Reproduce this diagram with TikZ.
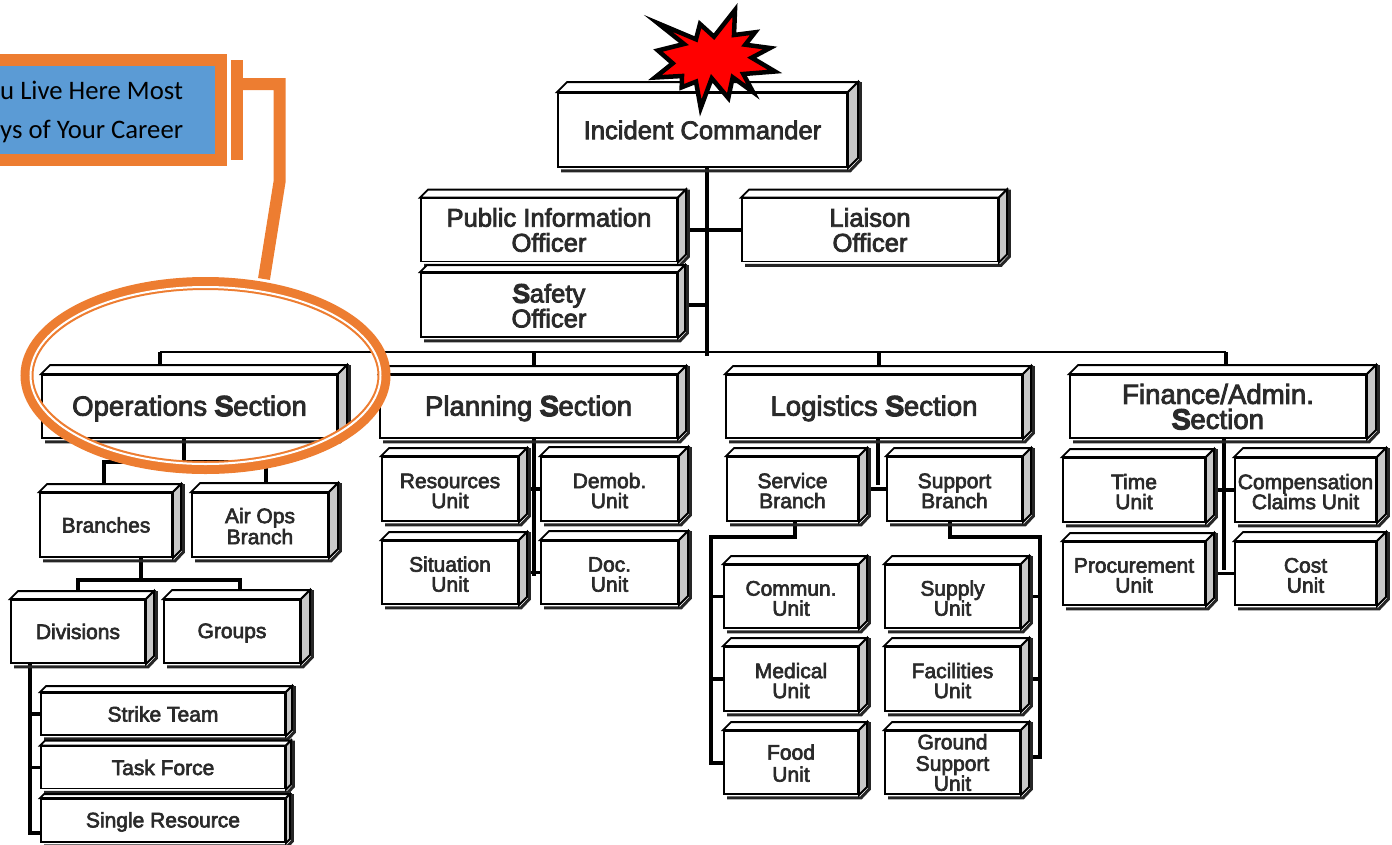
\documentclass[tikz,border=0pt]{standalone}
\usepackage{fontspec}
\usepackage{xcolor}
\usetikzlibrary{calc,backgrounds,shapes.geometric}
\newfontfamily\orgfont[FakeBold=3]{Liberation Sans}
\newfontfamily\heavyfont[FakeBold=8]{Liberation Sans}
\newfontfamily\notefont{Carlito}
\newcommand\heavyS{{\heavyfont S}}
\definecolor{FontColor}{HTML}{2a2a2a}
\definecolor{BevelGray}{HTML}{c8c8c8}
\definecolor{NoteBlue}{HTML}{5b9bd5}
\definecolor{NoteOrange}{HTML}{ed7d31}
\definecolor{StarRed}{HTML}{ff0000}
\tikzstyle{orgnode} = [rectangle, draw=black, fill=white, line width=1.9pt, inner sep=0pt, align=center, text=FontColor]
\tikzstyle{big} = [orgnode, font=\orgfont\fontsize{25.6}{25}\selectfont]
\tikzstyle{sec} = [orgnode, font=\orgfont\fontsize{27.6}{25}\selectfont]
\tikzstyle{unit} = [orgnode, font=\orgfont\fontsize{21}{20}\selectfont]
\tikzstyle{low} = [text height=38.5pt]
\tikzstyle{link} = [line width=3.5pt, black, line join=miter]
\tikzstyle{callout} = [line width=12pt, NoteOrange, line join=miter]
\tikzset{x=1pt, y=-1pt}

\begin{document}
\begin{tikzpicture}
\clip (0,0) rectangle (1392,844);
% top of the chart
\node[big, minimum width=289pt, minimum height=74pt] (ic) at (702.5,130) {Incident Commander};
\node[big, minimum width=256pt, minimum height=63pt] (pio) at (549,230) {Public Information\\Officer};
\node[big, minimum width=256pt, minimum height=63pt] (lo) at (870,230) {Liaison\\Officer};
\node[big, minimum width=256pt, minimum height=64pt, text height=45pt] (so) at (549,305) {\heavyS afety\\Officer};
% sections
\node[sec, minimum width=295pt, minimum height=63pt, text depth=1.8pt] (ops) at (189.5,406.5) {Operations \heavyS ection};
\node[sec, minimum width=297pt, minimum height=63pt, text depth=1.8pt] (plan) at (528.5,406.5) {Planning \heavyS ection};
\node[sec, minimum width=296pt, minimum height=63pt, text depth=1.8pt] (logi) at (874,406.5) {Logistics \heavyS ection};
\node[sec, minimum width=296pt, minimum height=63pt] (fin) at (1218,406.5) {Finance/Admin.\\\heavyS ection};
% operations
\node[unit, minimum width=132pt, minimum height=64pt] (br) at (106,525) {Branches};
\node[unit, minimum width=136pt, minimum height=64pt, low] (air) at (260,525) {Air Ops\\[1pt]Branch};
\node[unit, minimum width=134pt, minimum height=63pt] (div) at (78,631.5) {Divisions};
\node[unit, minimum width=136pt, minimum height=63pt, text depth=1.5pt] (grp) at (232,631.5) {Groups};
\node[unit, minimum width=244pt, minimum height=42pt] (st) at (163,714) {Strike Team};
\node[unit, minimum width=244pt, minimum height=42pt] (tf) at (163,767.5) {Task Force};
\node[unit, minimum width=244pt, minimum height=43pt, text depth=1.5pt] (sr) at (163,820.5) {Single Resource};
% planning
\node[unit, minimum width=136pt, minimum height=64pt, low] (res) at (450,489) {Resources\\Unit};
\node[unit, minimum width=137pt, minimum height=64pt, low] (dem) at (609.5,489) {Demob.\\Unit};
\node[unit, minimum width=136pt, minimum height=63pt, low] (sit) at (450,572.5) {Situation\\Unit};
\node[unit, minimum width=137pt, minimum height=63pt, low] (doc) at (609.5,572.5) {Doc.\\Unit};
% logistics
\node[unit, minimum width=131pt, minimum height=64pt, low] (svc) at (792.5,489) {Service\\Branch};
\node[unit, minimum width=135pt, minimum height=64pt, low] (sup) at (954.5,489) {Support\\Branch};
\node[unit, minimum width=134pt, minimum height=63pt, low] (com) at (791,596.5) {Commun.\\Unit};
\node[unit, minimum width=134pt, minimum height=64pt, low] (med) at (791,679) {Medical\\Unit};
\node[unit, minimum width=134pt, minimum height=63pt, low] (food) at (791,762.5) {Food\\[2pt]Unit};
\node[unit, minimum width=135pt, minimum height=63pt, low] (sply) at (952.5,596.5) {Supply\\Unit};
\node[unit, minimum width=135pt, minimum height=64pt, low] (fac) at (952.5,679) {Facilities\\Unit};
\node[unit, minimum width=135pt, minimum height=63pt] (gnd) at (952.5,762.5) {Ground\\[1.5pt]Support\\Unit};
% finance
\node[unit, minimum width=142pt, minimum height=64pt, low] (time) at (1134,490) {Time\\Unit};
\node[unit, minimum width=141pt, minimum height=64pt, low] (comp) at (1305.5,490) {Compensation\\Claims Unit};
\node[unit, minimum width=142pt, minimum height=63pt, low] (proc) at (1134,573.5) {Procurement\\Unit};
\node[unit, minimum width=141pt, minimum height=63pt, low] (cost) at (1305.5,573.5) {Cost\\Unit};
% the raised edges of every box
\foreach \n/\d in {ic/10,pio/8,lo/8,so/7,ops/9,plan/8,logi/8,fin/9,br/8,air/9,div/8,grp/9,st/6,tf/5,sr/4,
  res/8,dem/9,sit/8,doc/9,svc/8,sup/8,com/8,med/8,food/8,sply/8,fac/8,gnd/8,time/8,comp/9,proc/8,cost/9} {
  \draw[line width=3pt, black!85] ($(\n.south west)+(4,3)$) -- ($(\n.south east)+(2,3)$) -- ($(\n.south east)+(\d+2.5,-\d+2)$) -- ($(\n.north east)+(\d+2.5,-\d)$);
  \draw[line width=1.9pt, black, fill=white] (\n.north west) -- ($(\n.north west)+(\d,-\d)$) -- ($(\n.north east)+(\d,-\d)$) -- (\n.north east) -- cycle;
  \draw[line width=1.9pt, black, fill=BevelGray] (\n.north east) -- ($(\n.north east)+(\d,-\d)$) -- ($(\n.south east)+(\d,-\d)$) -- (\n.south east) -- cycle;
}
\coordinate (spine) at (707,356);
\coordinate (bus) at (160,352);
\coordinate (busend) at (1226,352);
\coordinate (opsbar) at (184,462);
\coordinate (brbar) at (141,580);
\coordinate (divend) at (30,833);
\coordinate (svcbar) at (795,537);
\coordinate (svcend) at (711,763);
\coordinate (supbar) at (950,537);
\coordinate (supend) at (1040,757);
\begin{pgfonlayer}{background}
\draw[link] (ic.south -| spine) -- (spine);
\draw[link] (pio.east) -- (lo.west);
\draw[link] (so.east) -- (so.east -| spine);
\draw[link, line width=2.8pt] (bus) -- (busend);
\draw[link] (bus) -- (bus |- ops.north);
\draw[link] (plan.north -| 534,0) -- (534,352);
\draw[link] (logi.north -| 879,0) -- (879,352);
\draw[link] (busend) -- (busend |- fin.north);
\draw[link] (ops.south -| opsbar) -- (opsbar);
\draw[link] (br.north -| 104,0) |- (opsbar);
\draw[link] (air.north -| 266,0) |- (opsbar);
\draw[link] (br.south -| brbar) -- (brbar);
\draw[link] (div.north) |- (brbar);
\draw[link] (grp.north -| 240,0) |- (brbar);
\draw[link] (div.south -| divend) -- (divend) -- (sr.west |- divend);
\draw[link] (st.west) -| (divend);
\draw[link] (tf.west) -| (divend);
\draw[link] (plan.south -| 534,0) -- (534,576);
\draw[link] (res.east) -- (dem.west);
\draw[link] (sit.east) -- (doc.west);
\draw[link] (logi.south -| 878,0) -- (878,485);
\draw[link] (svc.east) -- (sup.west);
\draw[link] (svc.south -| svcbar) -- (svcbar) -| (svcend) -- (food.west |- svcend);
\draw[link] (com.west) -| (svcend);
\draw[link] (med.west) -| (svcend);
\draw[link] (sup.south -| supbar) -- (supbar) -| (supend) -- (gnd.east |- supend);
\draw[link] (sply.east) -| (supend);
\draw[link] (fac.east) -| (supend);
\draw[link] (fin.south -| 1224,0) -- (1224,570);
\draw[link] (time.east) -- (comp.west);
\draw[link] (proc.east) -- (cost.west);
\end{pgfonlayer}
% the burst on the commander
\draw[line width=4.5pt, black, fill=StarRed, miter limit=10, line join=miter]
  (658,23.3) -- (696,39.3) -- (700,24) -- (714,36.7) -- (735,10) -- (734,35) -- (755,32.3) -- (745.3,44.7) -- (770,48) -- (751.7,57.7)
  -- (775,71.5) -- (743.3,74) -- (753,92) -- (732.7,77.3) -- (728.3,98) -- (711.7,78.3) -- (700.7,108) -- (696,81.7) -- (681.7,87.3) -- (682,76)
  -- (655,77.5) -- (672.7,63.3) -- (658,50.5) -- (684,44) -- cycle;
% the note and its ring
\node[ellipse, draw=NoteOrange, line width=13pt, inner sep=0pt, minimum width=357pt, minimum height=184pt] (ring) at (205.5,375.5) {};
\node[ellipse, draw=white, line width=2pt, inner sep=0pt, minimum width=350pt, minimum height=177pt] (gap) at (205.5,375.5) {};
\node[rectangle, draw=NoteOrange, fill=NoteBlue, line width=12pt, inner sep=0pt, minimum width=231pt, minimum height=100pt] (note) at (105.5,110) {};
\node[anchor=west, align=left, inner sep=0pt, text=black, font=\notefont\fontsize{26.7}{39}\selectfont] (notetext) at (0,112) {u Live Here Most\\ys of Your Career};
\coordinate (barup) at (237,60);
\coordinate (bardown) at (237,160);
\coordinate (arm) at (237,84);
\coordinate (bend) at (279.5,84);
\coordinate (knee) at (279.5,182);
\coordinate (tail) at (264,279);
\draw[callout] (barup) -- (bardown);
\draw[callout] (arm) -- (bend) -- (knee) -- (tail);
\end{tikzpicture}
\end{document}
